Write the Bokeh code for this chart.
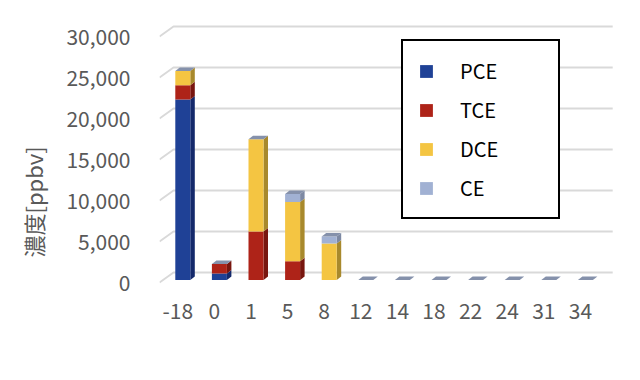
import numpy as np
from bokeh.plotting import figure
from bokeh.models import Range1d, FixedTicker, NumeralTickFormatter, Legend, LegendItem, ColumnDataSource, Title
from bokeh.embed import file_html
from bokeh.resources import INLINE

categories = ["-18", "0", "1", "5", "8", "12", "14", "18", "22", "24", "31", "34"]
pce = [22000, 800, 0, 0, 0, 0, 0, 0, 0, 0, 0, 0]
tce = [1750, 1150, 5900, 2300, 0, 0, 0, 0, 0, 0, 0, 0]
dce = [1750, 0, 11250, 7200, 4450, 0, 0, 0, 0, 0, 0, 0]
ce = [0, 0, 0, 1000, 850, 0, 0, 0, 0, 0, 0, 0]
series_names = ["PCE", "TCE", "DCE", "CE"]
y_ticks = [0, 5000, 10000, 15000, 20000, 25000, 30000]
y_title = "濃度[ppbv]"

front_colors = ["#1f4196", "#ae2318", "#f4c542", "#a1b1d3"]
side_colors = ["#14296b", "#78160f", "#a8892c", "#7d89a3"]
top_color = "#8591ab"

PX_X = 36.6      # px per category
PX_Y = 0.0082    # px per ppbv
def sx(px):
    return px / PX_X
def sy(px):
    return px / PX_Y

FONT = "Noto Sans CJK JP"
GREY = "#595959"

p = figure(width=624, height=364, output_backend="svg", toolbar_location=None,
           x_range=Range1d(-0.5, -0.5 + sx(461)),
           y_range=Range1d(-sy(8), -sy(8) + sy(270)),
           min_border_left=159, min_border_right=4, min_border_top=20, min_border_bottom=74)
p.outline_line_color = None
p.xgrid.visible = False
p.ygrid.visible = False

n = len(categories)
idx = np.arange(n)

# back wall gridlines + left wall diagonals
wx0 = -0.5 + sx(14)
wx1 = n - 0.5 + sx(14)
for v in y_ticks:
    p.line([-0.5, wx0, wx1], [v, v + sy(10), v + sy(10)], line_color="#d9d9d9", line_width=2)

# bars
xc = idx + sx(5)
w = sx(15)
ddx = sx(4.5)
ddy = sy(3.5)
base = np.full(n, sy(2.5))
data = [np.array(pce, float), np.array(tce, float), np.array(dce, float), np.array(ce, float)]
fronts = []
bottom = base.copy()
for k, vals in enumerate(data):
    top = bottom + vals
    xs, ys = [], []
    for i in range(n):
        if vals[i] > 0:
            xr = xc[i] + w / 2
            xs.append([xr, xr + ddx, xr + ddx, xr])
            ys.append([bottom[i], bottom[i] + ddy, top[i] + ddy, top[i]])
    if xs:
        p.patches(xs, ys, fill_color=side_colors[k], line_color=None)
    src = ColumnDataSource(dict(x=xc, b=bottom, t=top))
    r = p.vbar(x="x", bottom="b", top="t", width=w, source=src,
               fill_color=front_colors[k], line_color=None)
    fronts.append(r)
    bottom = top

# top faces
xs, ys = [], []
for i in range(n):
    xl = xc[i] - w / 2
    xr = xc[i] + w / 2
    T = bottom[i]
    xs.append([xl, xr, xr + ddx, xl + ddx])
    ys.append([T, T, T + ddy, T + ddy])
p.patches(xs, ys, fill_color=top_color, line_color=None)

# axes
p.xaxis.ticker = FixedTicker(ticks=list(range(n)))
p.xaxis.major_label_overrides = {i: c for i, c in enumerate(categories)}
p.xaxis.axis_line_color = None
p.xaxis.major_tick_line_color = None
p.xaxis.minor_tick_line_color = None
p.xaxis.major_label_standoff = 6
p.xaxis.major_label_text_font = FONT
p.xaxis.major_label_text_font_size = "21px"
p.xaxis.major_label_text_color = GREY

p.yaxis.ticker = FixedTicker(ticks=y_ticks)
p.yaxis.formatter = NumeralTickFormatter(format="0,0")
p.yaxis.axis_line_color = None
p.yaxis.major_tick_line_color = None
p.yaxis.minor_tick_line_color = None
p.yaxis.major_label_standoff = 23
p.yaxis.major_label_text_font = FONT
p.yaxis.major_label_text_font_size = "21px"
p.yaxis.major_label_text_color = GREY

# y-axis title, placed lower like the original
ytitle = Title(text=y_title, align="left", vertical_align="top", offset=33, standoff=26,
               text_font=FONT, text_font_size="22px", text_font_style="normal", text_color=GREY)
p.add_layout(ytitle, "left")

legend = Legend(items=[LegendItem(label=s, renderers=[r]) for s, r in zip(series_names, fronts)],
                location=(242, 71), border_line_color="black", border_line_width=2, border_line_alpha=1,
                background_fill_color="white", background_fill_alpha=1,
                padding=15, spacing=10, label_height=20, glyph_height=16, glyph_width=16,
                label_standoff=26, label_width=83, margin=0,
                label_text_font=FONT, label_text_font_size="20px", label_text_color="black")
p.add_layout(legend, "center")

open("out.html", "w").write(file_html(p, INLINE))
